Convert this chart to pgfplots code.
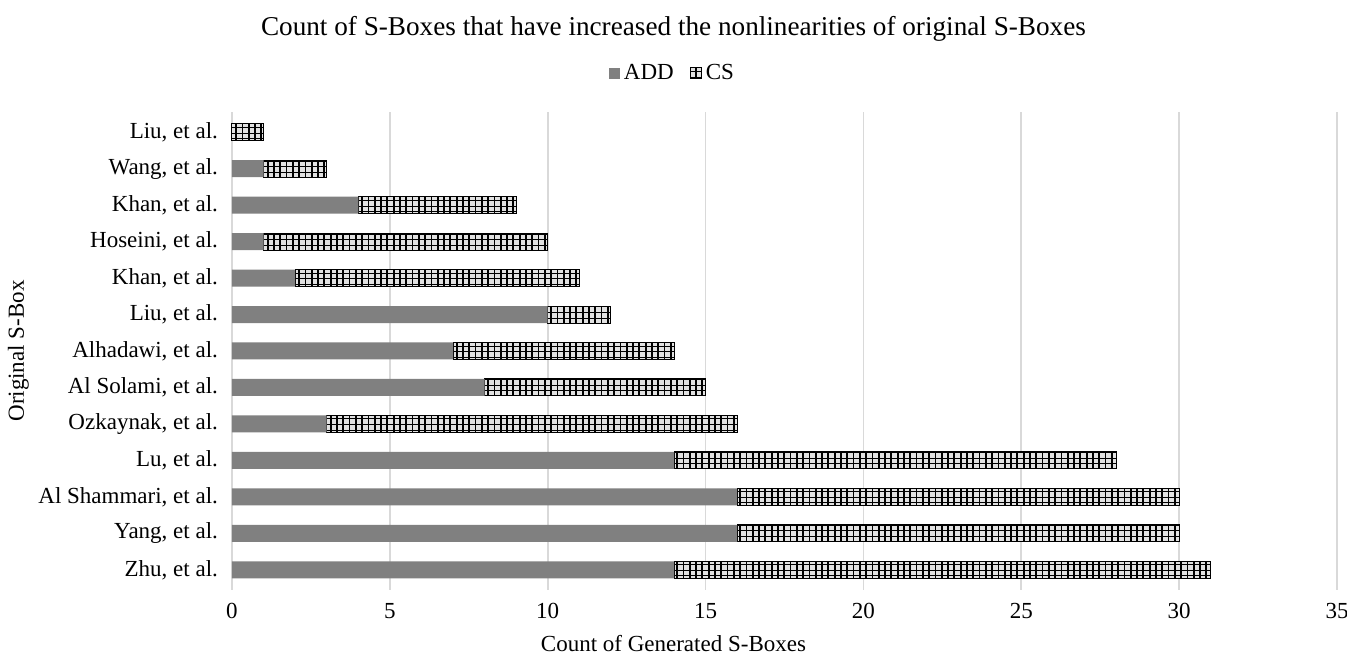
\documentclass[border=0pt]{standalone}
\usepackage{fontspec}
\setmainfont{Liberation Serif}
\usepackage{pgfplots}
\pgfplotsset{compat=1.18}
\usetikzlibrary{patterns}
\pgfdeclarepatternformonly{csgrid}{\pgfqpoint{-1pt}{-1pt}}{\pgfqpoint{4.2pt}{3.8pt}}{\pgfqpoint{3.15pt}{2.8pt}}{%
  \pgfsetlinewidth{0.9pt}
  \pgfpathmoveto{\pgfqpoint{1.5pt}{-0.1pt}}
  \pgfpathlineto{\pgfqpoint{1.5pt}{2.9pt}}
  \pgfusepath{stroke}
  \pgfsetlinewidth{0.5pt}
  \pgfpathmoveto{\pgfqpoint{-0.1pt}{1.4pt}}
  \pgfpathlineto{\pgfqpoint{3.25pt}{1.4pt}}
  \pgfusepath{stroke}
}
\definecolor{addgray}{RGB}{128,128,128}
\definecolor{csfill}{RGB}{225,225,225}
\definecolor{gridc}{RGB}{217,217,217}
\begin{document}
\begin{tikzpicture}
\begin{axis}[
  name=ax,
  scale only axis,
  width=552.5pt, height=239pt,
  xbar stacked,
  bar width=8.5pt,
  xmin=0, xmax=35,
  ymin=-0.55, ymax=12.55,
  xtick={0,5,...,35},
  ytick={0,...,12},
  yticklabels={{Zhu, et al.},{Yang, et al.},{Al Shammari, et al.},{Lu, et al.},{Ozkaynak, et al.},{Al Solami, et al.},{Alhadawi, et al.},{Liu, et al.},{Khan, et al.},{Hoseini, et al.},{Khan, et al.},{Wang, et al.},{Liu, et al.}},
  /pgf/number format/assume math mode=true,
  tick label style={font=\fontsize{11.5}{13}\selectfont},
  yticklabel style={xshift=-3.5pt},
  xticklabel style={yshift=-3pt},
  major tick length=0pt,
  axis line style={draw=none},
  xmajorgrids, grid style={gridc, line width=0.8pt},
  xlabel={Count of Generated S-Boxes},
  ylabel={Original S-Box},
  label style={font=\fontsize{11.5}{13}\selectfont},
  xlabel style={at={(rel axis cs:0.3995,0)}, anchor=base, yshift=-31pt},
  ylabel style={at={(rel axis cs:0,0.5)}, anchor=base, xshift=0pt, yshift=104pt},
  legend style={draw=none, at={(rel axis cs:0.3995,1.0816)}, anchor=center, legend columns=2, font=\fontsize{11.5}{13}\selectfont, /tikz/every even column/.append style={column sep=6pt}},
  legend image code/.code={\path[#1, draw=none] (0pt,-3pt) rectangle (5.5pt,2.5pt);},
  legend cell align=left,
  clip=false,
]
\addplot[fill=addgray, draw=none] coordinates {
(14,0) (16,1) (16,2) (14,3) (3,4) (8,5) (7,6) (10,7) (2,8) (1,9) (4,10) (1,11) (0,12)};
\addlegendentry{ADD}
\addplot[fill=csfill, draw=black, line width=0.5pt, postaction={pattern=csgrid}] coordinates {
(17,0) (14,1) (14,2) (14,3) (13,4) (7,5) (7,6) (2,7) (9,8) (9,9) (5,10) (2,11) (1,12)};
\addlegendentry{CS}
\node[font=\fontsize{13.6}{15}\selectfont, anchor=base] at (rel axis cs:0.3995,1.16) {Count of S-Boxes that have increased the nonlinearities of original S-Boxes};
\end{axis}
\pgfresetboundingbox
\path[use as bounding box] ([shift={(-116pt,-33.5pt)}]ax.south west) rectangle ++(673.5pt,328.5pt);
\end{tikzpicture}
\end{document}
